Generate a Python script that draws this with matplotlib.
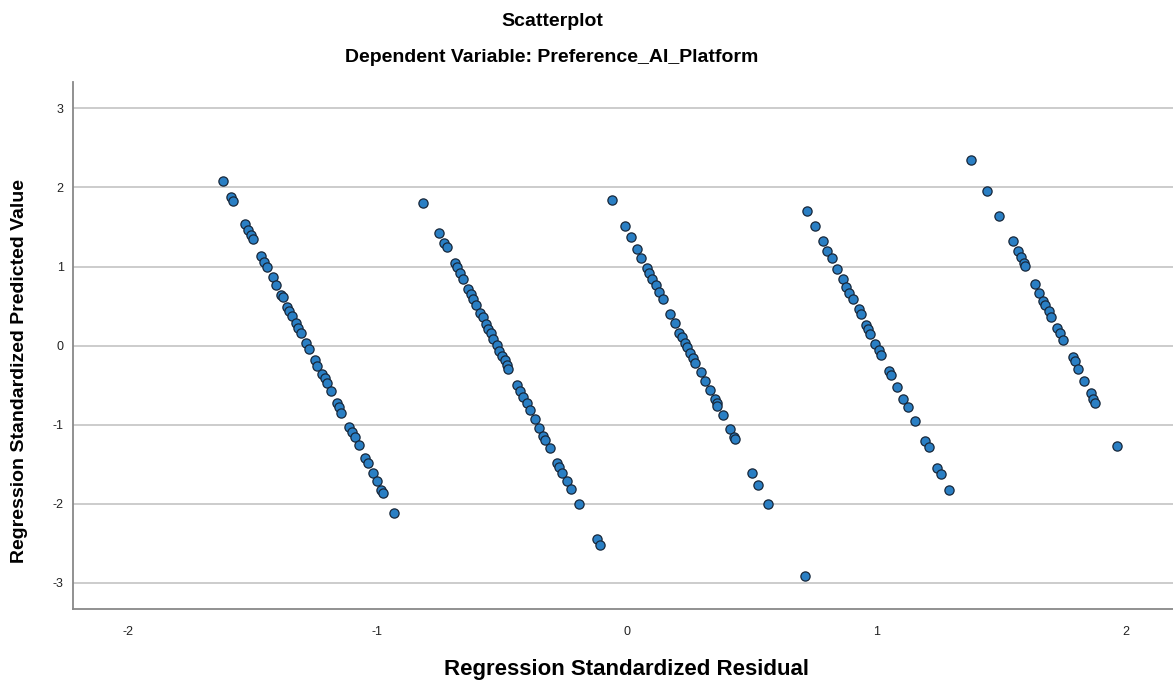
"""
SPSS style residual scatterplot: standardized residual vs standardized predicted value
"""
import numpy as np
import matplotlib
matplotlib.use('Agg')
from matplotlib import pyplot as plt

plt.rcParams['font.family'] = ['Liberation Sans', 'DejaVu Sans']
plt.rcParams['axes.unicode_minus'] = False

# each diagonal band = one observed value of the dependent variable
band1_resid = [-1.620, -1.588, -1.580, -1.530, -1.518, -1.508, -1.500, -1.466, -1.455, -1.444,
               -1.420, -1.407, -1.386, -1.380, -1.362, -1.354, -1.343, -1.327, -1.319, -1.308,
               -1.287, -1.273, -1.252, -1.241, -1.222, -1.212, -1.204, -1.185, -1.164, -1.156,
               -1.145, -1.113, -1.102, -1.091, -1.075, -1.049, -1.038, -1.019, -1.003, -0.985,
               -0.977, -0.934]
band1_pred = [2.078, 1.884, 1.833, 1.538, 1.462, 1.399, 1.344, 1.133, 1.061, 0.997,
              0.863, 0.762, 0.639, 0.610, 0.491, 0.441, 0.373, 0.281, 0.218, 0.154,
              0.035, -0.048, -0.184, -0.259, -0.361, -0.415, -0.478, -0.572, -0.724, -0.775,
              -0.858, -1.028, -1.091, -1.154, -1.263, -1.428, -1.491, -1.618, -1.715, -1.829,
              -1.871, -2.124]

band2_resid = [-0.816, -0.752, -0.733, -0.723, -0.688, -0.680, -0.669, -0.659, -0.637, -0.626,
               -0.616, -0.605, -0.589, -0.578, -0.565, -0.557, -0.546, -0.536, -0.522, -0.512,
               -0.501, -0.490, -0.482, -0.477, -0.442, -0.429, -0.416, -0.402, -0.389, -0.370,
               -0.352, -0.335, -0.327, -0.309, -0.282, -0.271, -0.261, -0.242, -0.223, -0.194,
               -0.121, -0.108]
band2_pred = [1.808, 1.428, 1.294, 1.243, 1.041, 0.990, 0.914, 0.846, 0.719, 0.652,
              0.592, 0.516, 0.415, 0.357, 0.272, 0.213, 0.154, 0.086, 0.003, -0.066,
              -0.133, -0.184, -0.251, -0.294, -0.496, -0.580, -0.656, -0.732, -0.816, -0.927,
              -1.044, -1.146, -1.196, -1.297, -1.484, -1.542, -1.610, -1.711, -1.820, -2.006,
              -2.453, -2.529]

band3_resid = [-0.060, -0.007, 0.015, 0.039, 0.057, 0.079, 0.087, 0.100, 0.116, 0.127,
               0.143, 0.172, 0.191, 0.210, 0.220, 0.231, 0.242, 0.253, 0.263, 0.274,
               0.295, 0.311, 0.333, 0.352, 0.360, 0.362, 0.384, 0.413, 0.429, 0.431,
               0.501, 0.525, 0.565]
band3_pred = [1.842, 1.513, 1.370, 1.225, 1.108, 0.981, 0.922, 0.846, 0.762, 0.677,
              0.592, 0.399, 0.289, 0.162, 0.104, 0.035, -0.015, -0.091, -0.158, -0.218,
              -0.335, -0.446, -0.563, -0.681, -0.732, -0.766, -0.884, -1.057, -1.162, -1.187,
              -1.618, -1.762, -2.006]

band4_resid = [0.720, 0.752, 0.784, 0.803, 0.822, 0.840, 0.865, 0.878, 0.891, 0.905,
               0.929, 0.937, 0.958, 0.966, 0.974, 0.995, 1.009, 1.019, 1.051, 1.057,
               1.083, 1.107, 1.126, 1.156, 1.196, 1.209, 1.244, 1.259, 1.289, 0.713]
band4_pred = [1.706, 1.513, 1.327, 1.200, 1.108, 0.972, 0.838, 0.744, 0.668, 0.585,
              0.458, 0.399, 0.263, 0.205, 0.146, 0.019, -0.057, -0.124, -0.319, -0.370,
              -0.529, -0.673, -0.775, -0.949, -1.205, -1.289, -1.544, -1.627, -1.829, -2.918]

band5_resid = [1.378, 1.442, 1.492, 1.546, 1.567, 1.578, 1.591, 1.596, 1.634, 1.650,
               1.669, 1.677, 1.690, 1.701, 1.725, 1.735, 1.749, 1.786, 1.794, 1.808,
               1.832, 1.859, 1.869, 1.877, 1.965]
band5_pred = [2.348, 1.959, 1.639, 1.327, 1.200, 1.116, 1.041, 1.006, 0.778, 0.668,
              0.559, 0.509, 0.433, 0.365, 0.222, 0.154, 0.070, -0.142, -0.200, -0.294,
              -0.446, -0.597, -0.681, -0.732, -1.266]

y_ticks = [-3, -2, -1, 0, 1, 2, 3]
x_ticks = [-2, -1, 0, 1, 2]

resid = np.concatenate([band1_resid, band2_resid, band3_resid, band4_resid, band5_resid])
pred = np.concatenate([band1_pred, band2_pred, band3_pred, band4_pred, band5_pred])

fig = plt.figure(figsize=(11.73, 6.84), dpi=100)
ax = fig.add_axes([0.0625, 0.1096, 0.944, 0.7705])

for y in y_ticks:
    ax.axhline(y, color='#c8c8c8', lw=1.3, zorder=1)

ax.scatter(resid, pred, s=44, c='#2a7fc4', edgecolors='#17273a', linewidths=0.9, zorder=3)

ax.set_xlim(-2.219, 2.219)
ax.set_ylim(-3.335, 3.335)
ax.set_xticks(x_ticks)
ax.set_yticks(y_ticks)
ax.tick_params(length=0, labelsize=9, colors='#222222', pad=7)
ax.tick_params(axis='x', pad=12)
for side in ['top', 'right']:
    ax.spines[side].set_visible(False)
for side in ['left', 'bottom']:
    ax.spines[side].set_color('#888888')
    ax.spines[side].set_linewidth(1.3)

fig.text(552 / 1173, 1 - 21 / 684, 'Scatterplot', ha='center', va='center',
         fontsize=14, fontweight='bold')
fig.text(552 / 1173, 1 - 58 / 684, 'Dependent Variable: Preference_AI_Platform', ha='center',
         va='center', fontsize=14, fontweight='bold')
fig.text(627 / 1173, 1 - 670 / 684, 'Regression Standardized Residual', ha='center',
         va='center', fontsize=16, fontweight='bold')
fig.text(20 / 1173, 1 - 371 / 684, 'Regression Standardized Predicted Value', ha='center',
         va='center', rotation=90, fontsize=14, fontweight='bold')

fig.savefig('out.png', dpi=100)
